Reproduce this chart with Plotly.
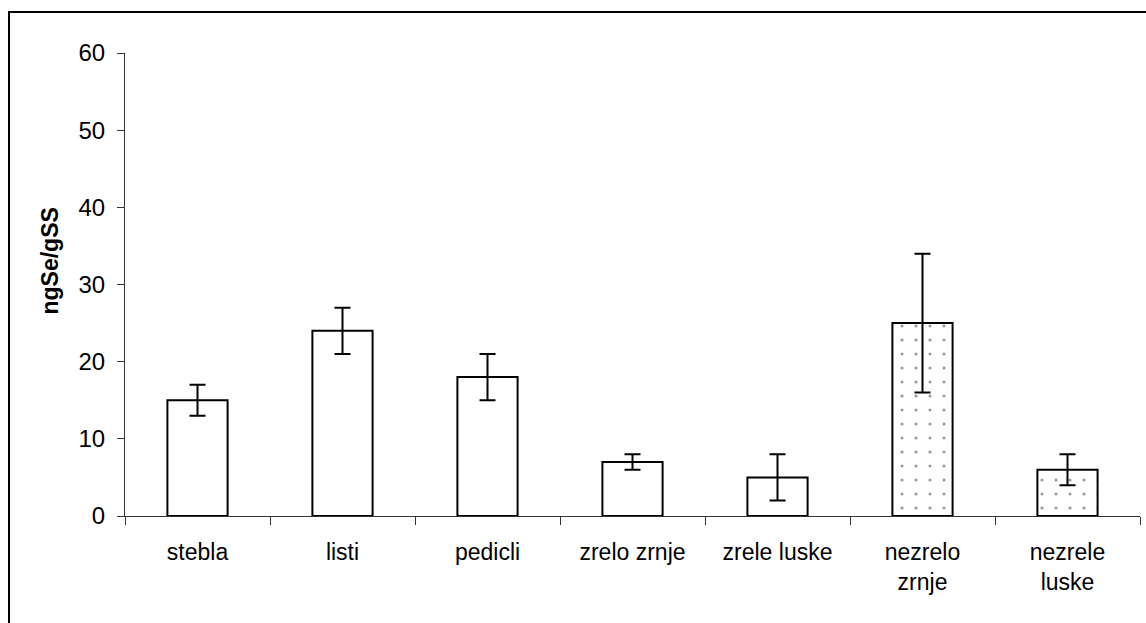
import plotly.graph_objects as go

categories = ["stebla", "listi", "pedicli", "zrelo zrnje", "zrele luske", "nezrelo<br>zrnje", "nezrele<br>luske"]
values = [15, 24, 18, 7, 5, 25, 6]
errors = [2, 3, 3, 1, 3, 9, 2]
patterns = ["", "", "", "", "", ".", "."]
y_ticks = [0, 10, 20, 30, 40, 50, 60]
y_title = "ngSe/gSS"

FONT = "Liberation Sans, Arial, sans-serif"
PLOT_W, PLOT_H = 1015, 463

fig = go.Figure()
fig.add_trace(go.Bar(
    x=categories, y=values,
    marker=dict(
        color="white",
        line=dict(color="black", width=2),
        pattern=dict(shape=patterns, size=14, solidity=0.04, fgcolor="#333333", bgcolor="white", fillmode="overlay"),
    ),
    error_y=dict(type="data", array=errors, visible=True, color="black", thickness=2, width=8),
    showlegend=False,
))

fig.update_layout(
    width=1146, height=623,
    margin=dict(l=125, r=6, t=53, b=107),
    paper_bgcolor="white", plot_bgcolor="white",
    bargap=0.585,
    font=dict(family=FONT, size=23, color="black"),
    xaxis=dict(
        showline=True, linecolor="#333333", linewidth=1,
        ticks="outside", ticklen=8, tickcolor="#333333", tickson="boundaries",
        tickfont=dict(size=23), showgrid=False, zeroline=False, ticklabelstandoff=15,
    ),
    yaxis=dict(
        range=[0, 60], tickvals=y_ticks, showline=True, linecolor="#333333", linewidth=1,
        ticks="outside", ticklen=7, tickcolor="#333333", showgrid=False, zeroline=False,
        tickfont=dict(size=24), ticklabelstandoff=7,
    ),
    annotations=[dict(text="<b>" + y_title + "</b>", xref="paper", yref="paper",
                      x=(49.5 - 125) / PLOT_W, y=(516 - 261) / PLOT_H,
                      xanchor="center", yanchor="middle", textangle=-90,
                      showarrow=False, font=dict(size=23, family=FONT, color="black"))],
    shapes=[dict(type="rect", xref="paper", yref="paper",
                 x0=-116 / PLOT_W, x1=1.2, y0=-1.0, y1=1 + 41 / PLOT_H,
                 line=dict(color="black", width=2), fillcolor="rgba(0,0,0,0)", layer="below")],
)

fig.write_html("out.html")
